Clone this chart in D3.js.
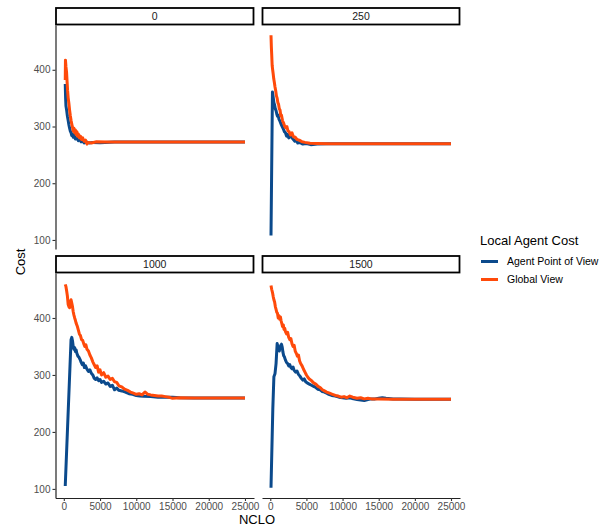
<!DOCTYPE html>
<html>
<head>
<meta charset="utf-8">
<script src="https://cdn.jsdelivr.net/npm/d3@7"></script>
<style>
  body { margin: 0; background: #fff; }
  svg { display: block; }
  text { font-family: "Liberation Sans", Arial, Helvetica, sans-serif; }
</style>
</head>
<body>
<svg id="chart" width="609" height="527"></svg>
<script>
// Facet labels and series
const facets = ["0", "250", "1000", "1500"];
const seriesNames = ["Agent Point of View", "Global View"];
const seriesColors = ["#0b4a8c", "#ff4a0a"];
const legendTitle = "Local Agent Cost";
const xTitle = "NCLO";
const yTitle = "Cost";
const xTicks = [0, 5000, 10000, 15000, 20000, 25000];
const yTicks = [100, 200, 300, 400];

// [NCLO, cost] pairs per facet and series
const agent0 = [[200,375],[250,350],[300,336],[400,328],[500,318],[600,311],[700,303],[800,297],[900,292],[1000,289],[1100,284],[1200,287],[1300,281],[1450,284],[1600,278],[1800,280],[2000,275],[2200,277],[2400,273],[2600,275],[2800,271],[3100,273],[3500,271],[4000,272],[5000,271.5],[7000,272.5],[12000,272.5],[18000,272.5],[25000,272.5]];
const global0 = [[200,382],[230,417],[300,405],[380,396],[450,380],[520,364],[600,351],[700,341],[800,329],[900,319],[1000,311],[1100,304],[1200,299],[1300,292],[1400,297],[1500,289],[1600,294],[1700,286],[1800,291],[1900,283],[2000,287],[2150,280],[2300,283],[2450,277],[2600,280],[2800,274],[3000,276],[3200,269],[3400,272],[3800,271],[4500,273],[6000,272.5],[10000,272.5],[15000,272.5],[20000,272.5],[25000,272.5]];

const agent250 = [[100,108],[300,361],[400,352],[500,342],[600,338],[700,331],[800,328],[900,322],[1000,318],[1100,320],[1200,313],[1350,309],[1500,304],[1650,300],[1800,296],[1950,291],[2100,289],[2250,283],[2400,286],[2550,280],[2700,282],[2850,287],[3000,280],[3200,277],[3400,274],[3600,276],[3800,271],[4100,272],[4500,269],[5000,270],[5600,268],[6500,269],[8000,269.5],[15000,269.5],[25000,269.5]];
const global250 = [[100,461],[150,440],[200,426],[260,408],[320,401],[400,393],[480,384],[560,378],[650,370],[750,363],[850,354],[950,350],[1050,342],[1150,339],[1250,331],[1350,329],[1450,319],[1550,320],[1700,310],[1850,306],[2000,300],[2150,298],[2300,300],[2450,292],[2600,291],[2800,285],[3000,289],[3200,282],[3450,281],[3700,277],[4000,276],[4400,273],[4800,272],[5500,270.5],[6500,270],[8000,269.5],[15000,269.5],[25000,269.5]];

const agent1000 = [[200,105],[1000,362],[1100,366],[1200,360],[1300,350],[1400,345],[1500,348],[1600,341],[1700,344],[1800,338],[1950,333],[2100,331],[2250,327],[2400,322],[2550,318],[2700,321],[2850,313],[3000,316],[3200,310],[3400,306],[3600,309],[3800,303],[4000,300],[4200,294],[4400,292],[4600,295],[4800,290],[5000,292],[5200,287],[5500,289],[5800,284],[6100,286],[6400,280],[6700,282],[7000,274],[7300,277],[7600,273],[8000,272],[8500,270],[9000,267],[9500,266],[10000,264],[10500,263],[11000,262.5],[12000,262],[13000,261],[14000,261],[15000,261],[16000,260],[18000,259.5],[25000,259.5]];
const global1000 = [[200,459],[300,455],[400,447],[500,438],[600,424],[700,420],[800,418],[900,428],[1000,432],[1100,426],[1200,420],[1300,411],[1400,405],[1500,400],[1600,396],[1700,391],[1850,386],[2000,379],[2150,372],[2300,369],[2450,362],[2600,361],[2750,355],[2900,350],[3050,353],[3200,345],[3400,342],[3600,335],[3800,330],[4000,323],[4200,318],[4400,313],[4600,316],[4800,305],[5000,309],[5200,300],[5500,304],[5800,296],[6100,298],[6400,292],[6700,294],[7000,288],[7300,287],[7600,281],[8000,279],[8400,275],[8800,273],[9200,270],[9600,268],[10000,266],[10400,267],[10800,265],[11200,270],[11600,266],[12000,265],[12500,264],[13000,263],[13500,263],[14000,262],[14500,261],[15000,259],[16000,260],[18000,259.5],[20000,259.5],[25000,259.5]];

const agent1500 = [[100,102],[350,240],[500,297],[650,302],[800,320],[950,355],[1050,350],[1150,345],[1250,342],[1350,348],[1450,352],[1550,354],[1650,349],[1750,340],[1850,334],[1950,332],[2100,326],[2250,322],[2400,320],[2550,316],[2700,318],[2850,313],[3000,311],[3150,314],[3300,308],[3500,305],[3700,307],[3900,301],[4100,298],[4300,294],[4500,291],[4700,293],[4900,288],[5100,286],[5400,284],[5700,282],[6000,280],[6300,278],[6600,275],[6900,274],[7200,271],[7500,270],[7800,268],[8100,266],[8500,264],[9000,263],[9500,261],[10000,260],[10500,259],[11000,260],[11500,258],[12000,257],[12500,256],[13000,255],[13500,257],[14000,258],[14500,258],[15000,259],[15500,260],[16000,259],[17000,258],[18000,258],[20000,257.5],[25000,257.5]];
const global1500 = [[100,457],[200,450],[300,445],[400,438],[500,432],[600,428],[700,420],[800,415],[900,410],[1000,408],[1100,400],[1200,404],[1300,398],[1400,402],[1500,395],[1600,390],[1700,385],[1800,388],[1900,380],[2000,382],[2100,376],[2250,372],[2400,375],[2550,366],[2700,362],[2850,364],[3000,355],[3150,350],[3300,352],[3450,342],[3600,338],[3750,333],[3900,335],[4050,325],[4200,320],[4400,316],[4600,310],[4800,305],[5000,300],[5200,296],[5400,293],[5700,290],[6000,286],[6300,284],[6600,280],[6900,278],[7200,274],[7500,272],[7800,270],[8200,268],[8600,266],[9000,264],[9400,263],[9800,261],[10200,262],[10600,260],[11000,263],[11400,261],[12000,259],[12500,260],[13000,258],[13500,259],[14000,258],[15000,258],[17000,257.5],[20000,257.5],[25000,257.5]];

const seriesByFacet = {
  "0": [agent0, global0],
  "250": [agent250, global250],
  "1000": [agent1000, global1000],
  "1500": [agent1500, global1500]
};

// ---- layout ----
const cols = [[55.5, 254], [262, 460]];
const rows = [
  { strip: [8, 24.5], plot: [25, 249] },
  { strip: [256, 272.5], plot: [273, 498] }
];

const svg = d3.select("#chart");

// shared (fixed) scales with 5% padding on each side
const allPts = facets.flatMap(f => seriesByFacet[f].flat());
function padded(ext) {
  const r = ext[1] - ext[0];
  return [ext[0] - 0.05 * r, ext[1] + 0.05 * r];
}
const xDom = padded(d3.extent(allPts, d => d[0]));
const yDom = padded(d3.extent(allPts, d => d[1]));

facets.forEach((f, i) => {
  const col = i % 2, row = Math.floor(i / 2);
  const [x0, x1] = cols[col];
  const { strip, plot } = rows[row];
  const x = d3.scaleLinear().domain(xDom).range([x0, x1]);
  const y = d3.scaleLinear().domain(yDom).range([plot[1], plot[0]]);
  const g = svg.append("g").attr("class", "panel");

  // strip
  g.append("rect")
    .attr("x", x0 + 0.5).attr("y", strip[0])
    .attr("width", x1 - x0 - 1).attr("height", strip[1] - strip[0])
    .attr("fill", "#fff").attr("stroke", "#000").attr("stroke-width", 1.8);
  g.append("text")
    .attr("x", (x0 + x1) / 2).attr("y", (strip[0] + strip[1]) / 2 + 3.8)
    .attr("text-anchor", "middle").attr("font-size", 10.5).attr("fill", "#1a1a1a")
    .text(f);

  // series lines
  const line = d3.line().x(d => x(d[0])).y(d => y(d[1]));
  seriesByFacet[f].forEach((s, k) => {
    g.append("path").datum(s)
      .attr("d", line)
      .attr("fill", "none")
      .attr("stroke", seriesColors[k])
      .attr("stroke-width", 3)
      .attr("stroke-linejoin", "round")
      .attr("stroke-linecap", "butt");
  });

  // axes
  if (col === 0) {
    const ay = g.append("g").attr("transform", `translate(${x0},0)`)
      .call(d3.axisLeft(y).tickValues(yTicks).tickSize(3).tickSizeOuter(0).tickPadding(2));
    styleAxis(ay);
  }
  if (row === 1) {
    const ax = g.append("g").attr("transform", `translate(0,${plot[1]})`)
      .call(d3.axisBottom(x).tickValues(xTicks).tickFormat(d3.format("d")).tickSize(3).tickSizeOuter(0).tickPadding(1.5));
    styleAxis(ax);
  }
});

function styleAxis(a) {
  a.select(".domain").attr("stroke", "#222").attr("stroke-width", 1.2);
  a.selectAll(".tick line").attr("stroke", "#333").attr("stroke-width", 1.1);
  a.selectAll(".tick text").attr("fill", "#4d4d4d").attr("font-size", 10)
    .attr("font-family", "Liberation Sans, Arial, sans-serif");
}

// axis titles
svg.append("text").attr("x", 257).attr("y", 524)
  .attr("text-anchor", "middle").attr("font-size", 13).attr("fill", "#000").text(xTitle);
svg.append("text").attr("transform", "translate(25,262) rotate(-90)")
  .attr("text-anchor", "middle").attr("font-size", 13).attr("fill", "#000").text(yTitle);

// legend
const lg = svg.append("g").attr("class", "legend");
lg.append("text").attr("x", 480).attr("y", 245).attr("font-size", 13).attr("fill", "#000").text(legendTitle);
seriesNames.forEach((n, k) => {
  const cy = 261.5 + k * 18;
  lg.append("line").attr("x1", 481).attr("x2", 498).attr("y1", cy).attr("y2", cy)
    .attr("stroke", seriesColors[k]).attr("stroke-width", 3);
  lg.append("text").attr("x", 507).attr("y", cy + 3.8).attr("font-size", 10.5).attr("fill", "#000").text(n);
});
</script>
</body>
</html>
